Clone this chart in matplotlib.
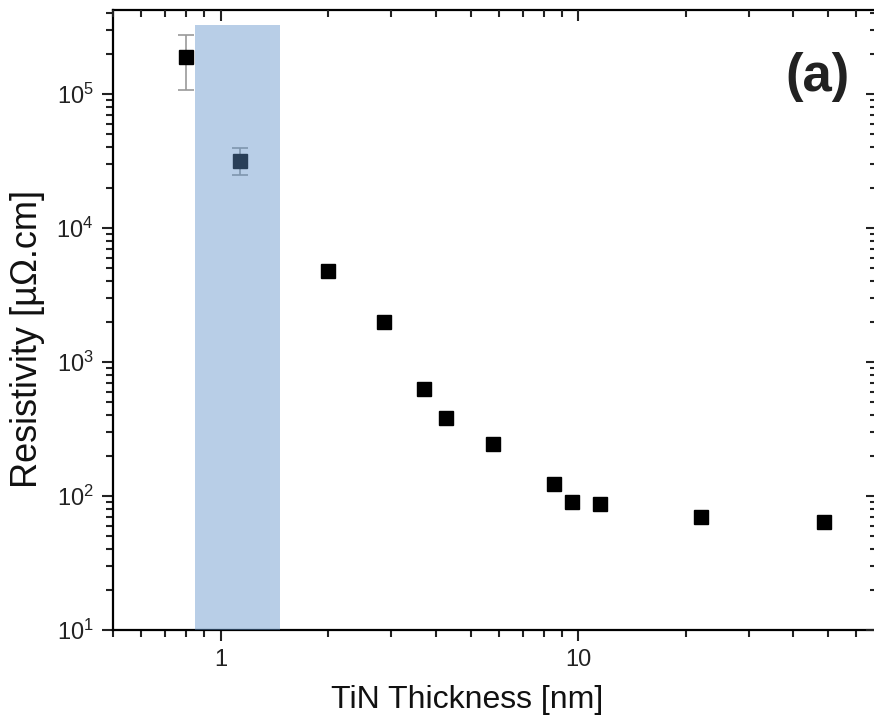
import matplotlib
matplotlib.use("Agg")
import matplotlib.pyplot as plt
from matplotlib.ticker import LogLocator, NullFormatter
import numpy as np

plt.rcParams['font.family'] = ['Liberation Sans', 'DejaVu Sans']
plt.rcParams['mathtext.fontset'] = 'custom'
plt.rcParams['mathtext.rm'] = 'Liberation Sans'
plt.rcParams['mathtext.it'] = 'Liberation Sans:italic'

# data
thickness = [0.80, 1.13, 2.0, 2.86, 3.70, 4.26, 5.79, 8.57, 9.62, 11.5, 22.1, 48.7]
resistivity = [1.89e5, 3.18e4, 4775, 1989, 632, 384, 244, 122, 89.7, 87.2, 70.1, 64.0]
err_low = [0.82e5, 0.69e4, 0, 0, 0, 0, 0, 0, 0, 0, 0, 0]
err_high = [0.87e5, 0.77e4, 0, 0, 0, 0, 0, 0, 0, 0, 0, 0]

# shaded region (nm) and its top
band_x = [0.85, 1.47]
band_top = 3.3e5

fig = plt.figure(figsize=(8.74, 7.18), dpi=100)
pos = [0.1293, 0.1226, 0.8741, 0.8635]
ax = fig.add_axes(pos)

ax.errorbar(thickness[:2], resistivity[:2],
            yerr=[err_low[:2], err_high[:2]],
            fmt='none', ecolor='#9a9a9a', elinewidth=1.2, capsize=6, capthick=1.2, zorder=2)
ax.plot(thickness, resistivity, 's', color='black', markersize=9.5, zorder=3)

ax.fill_between(band_x, 10, band_top, color=(0.37, 0.57, 0.79), alpha=0.44,
                linewidth=0, zorder=4)

ax.set_xscale('log')
ax.set_yscale('log')
ax.set_xlim(0.5, 68.5)
ax.set_ylim(10, 4.24e5)

ax.xaxis.set_minor_locator(LogLocator(base=10, subs=np.arange(2, 10), numticks=20))
ax.xaxis.set_minor_formatter(NullFormatter())
ax.yaxis.set_major_locator(LogLocator(base=10, numticks=10))
ax.yaxis.set_minor_locator(LogLocator(base=10, subs=np.arange(2, 10), numticks=20))
ax.yaxis.set_minor_formatter(NullFormatter())
ax.set_xticks([1, 10])
ax.set_xticklabels(['1', '10'])

for s in ax.spines.values():
    s.set_linewidth(1.6)

ax.tick_params(which='both', labelsize=17, width=1.5, colors='#222222', labelcolor='#222222')
ax.tick_params(which='major', length=8, direction='out', pad=6)
ax.tick_params(which='minor', length=5, direction='out')

# mirrored ticks on top/right point inward
ov = fig.add_axes(pos, sharex=ax, sharey=ax)
ov.patch.set_visible(False)
for s in ov.spines.values():
    s.set_visible(False)
ov.tick_params(which='both', direction='in', bottom=False, left=False, top=True, right=True,
               labelbottom=False, labelleft=False, width=1.5, colors='#222222')
ov.tick_params(which='major', length=8)
ov.tick_params(which='minor', length=5)

ax.set_xlabel('TiN Thickness [nm]', fontsize=23, color='#111111')
ax.set_ylabel('Resistivity [µΩ.cm]', fontsize=26, color='#111111')
ax.xaxis.set_label_coords(0.463, -0.088)
ax.yaxis.set_label_coords(-0.089, 0.469)

ax.text(0.922, 0.892, '(a)', transform=ax.transAxes, fontsize=38, fontweight='bold',
        color='#222222', ha='center', va='center')

fig.savefig('out.png', dpi=100)
